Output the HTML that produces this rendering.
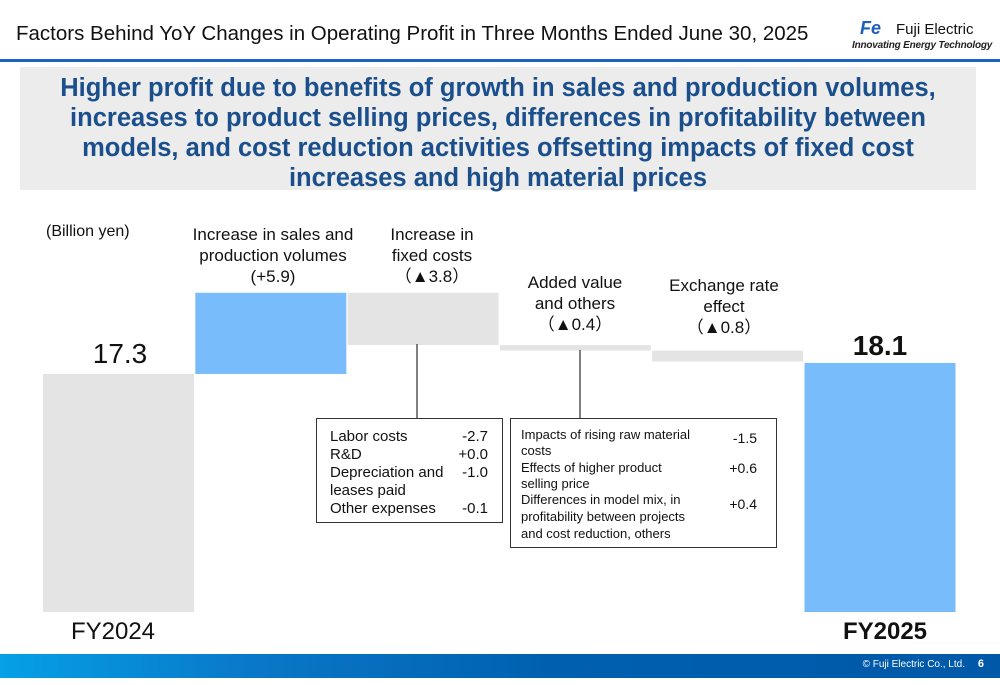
<!DOCTYPE html>
<html><head><meta charset="utf-8"><style>
body{margin:0;width:1000px;height:685px;overflow:hidden;background:#fff;font-family:"Liberation Sans",sans-serif;position:relative}
.a{position:absolute}
</style></head><body>
<div class="a" style="left:16px;top:22px;font-size:20.5px;color:#111">Factors Behind YoY Changes in Operating Profit in Three Months Ended June 30, 2025</div>
<div class="a" style="left:850px;top:18px;width:140px">
 <div style="font-size:15px;color:#111;position:absolute;left:46px;top:3px;white-space:nowrap"><span style="color:#1d5fbf;font-weight:bold;font-style:italic;font-size:18px;position:absolute;left:-36px;top:-3px">Fe</span>Fuji Electric</div>
 <div style="font-size:10px;font-style:italic;font-weight:bold;color:#222;position:absolute;left:2px;top:22px;white-space:nowrap;letter-spacing:-0.2px">Innovating Energy Technology</div>
</div>
<div class="a" style="left:0;top:59px;width:1000px;height:3px;background:#1e63c0"></div>
<div class="a" style="left:20px;top:67px;width:956px;height:123px;background:#ececec;color:#1a4f8c;font-weight:bold;font-size:25.5px;line-height:30px;text-align:center;padding-top:6px;box-sizing:border-box;white-space:nowrap">Higher profit due to benefits of growth in sales and production volumes,<br>increases to product selling prices, differences in profitability between<br>models, and cost reduction activities offsetting impacts of fixed cost<br>increases and high material prices</div>
<svg class="a" style="left:0;top:0" width="1000" height="685">
<g id="bars"></g>
<line x1="417" y1="344" x2="417" y2="418" stroke="#000"/>
<line x1="580" y1="350" x2="580" y2="418" stroke="#000"/>
<g font-family="Liberation Sans, sans-serif" fill="#111" font-size="17" text-anchor="middle">
<text x="46" y="236" text-anchor="start" font-size="16">(Billion yen)</text>
<text x="273" y="240"><tspan x="273">Increase in sales and</tspan><tspan x="273" dy="21">production volumes</tspan><tspan x="273" dy="21">(+5.9)</tspan></text>
<text x="432" y="240"><tspan x="432">Increase in</tspan><tspan x="432" dy="21">fixed costs</tspan><tspan x="432" dy="21">（▲3.8）</tspan></text>
<text x="575" y="288"><tspan x="575">Added value</tspan><tspan x="575" dy="21">and others</tspan><tspan x="575" dy="21">（▲0.4）</tspan></text>
<text x="724" y="291"><tspan x="724">Exchange rate</tspan><tspan x="724" dy="21">effect</tspan><tspan x="724" dy="21">（▲0.8）</tspan></text>
<text x="120" y="363" font-size="28">17.3</text>
<text x="880" y="355" font-size="28" font-weight="bold">18.1</text>
<text x="113" y="639" font-size="24">FY2024</text>
<text x="885" y="639" font-size="24" font-weight="bold">FY2025</text>
</g>
<g font-family="Liberation Sans, sans-serif" font-size="15" fill="#111">
<rect x="316.5" y="418.5" width="186" height="104" fill="#fff" stroke="#333"/>
<text x="330" y="441">Labor costs</text><text x="488" y="441" text-anchor="end">-2.7</text>
<text x="330" y="459">R&amp;D</text><text x="488" y="459" text-anchor="end">+0.0</text>
<text x="330" y="477">Depreciation and</text><text x="488" y="477" text-anchor="end">-1.0</text>
<text x="330" y="495">leases paid</text>
<text x="330" y="513">Other expenses</text><text x="488" y="513" text-anchor="end">-0.1</text>
</g>
<g font-family="Liberation Sans, sans-serif" font-size="13" fill="#111">
<rect x="510.5" y="418.5" width="266" height="129" fill="#fff" stroke="#333"/>
<text x="521" y="439">Impacts of rising raw material</text><text x="757" y="443" text-anchor="end" font-size="14">-1.5</text>
<text x="521" y="455">costs</text>
<text x="521" y="472">Effects of higher product</text><text x="757" y="473" text-anchor="end" font-size="14">+0.6</text>
<text x="521" y="488">selling price</text>
<text x="521" y="504">Differences in model mix,  in</text><text x="757" y="509" text-anchor="end" font-size="14">+0.4</text>
<text x="521" y="521">profitability between projects</text>
<text x="521" y="538">and cost reduction, others</text>
</g>
</svg>
<div class="a" style="left:0;top:654px;width:1000px;height:24px;background:linear-gradient(90deg,#05a0e6 0%,#0a78c8 25%,#0060b0 55%,#0058a8 100%)">
<span style="position:absolute;right:35px;top:5px;font-size:10px;color:#fff">© Fuji Electric Co., Ltd.</span>
<span style="position:absolute;right:16px;top:4px;font-size:11px;color:#fff;font-weight:bold">6</span>
</div>
<script>
const categories=["FY2024","Sales volume","Fixed costs","Added value","Exchange rate","FY2025"];
const values=[17.3,5.9,-3.8,-0.4,-0.8,18.1];
const kinds=["total","delta","delta","delta","delta","total"];
const baseY=612, pxPerUnit=13.76, x0=43, step=152.3, bw=151;
function yScale(v){return baseY-v*pxPerUnit;}
function xScale(i){return x0+i*step;}
const g=document.getElementById('bars');
let running=0;
categories.forEach((c,i)=>{
 let lo,hi,fill;
 if(kinds[i]==="total"){lo=0;hi=values[i];running=values[i];fill=i===0?"#e4e4e4":"#79bcfb";}
 else{const s=running;running+=values[i];lo=Math.min(s,running);hi=Math.max(s,running);fill=values[i]>0?"#79bcfb":"#e4e4e4";}
 const r=document.createElementNS("http://www.w3.org/2000/svg","rect");
 r.setAttribute('x',xScale(i));r.setAttribute('width',bw);
 r.setAttribute('y',yScale(hi));r.setAttribute('height',yScale(lo)-yScale(hi));
 r.setAttribute('fill',fill);
 
 
 g.appendChild(r);
});
</script>
</body></html>
